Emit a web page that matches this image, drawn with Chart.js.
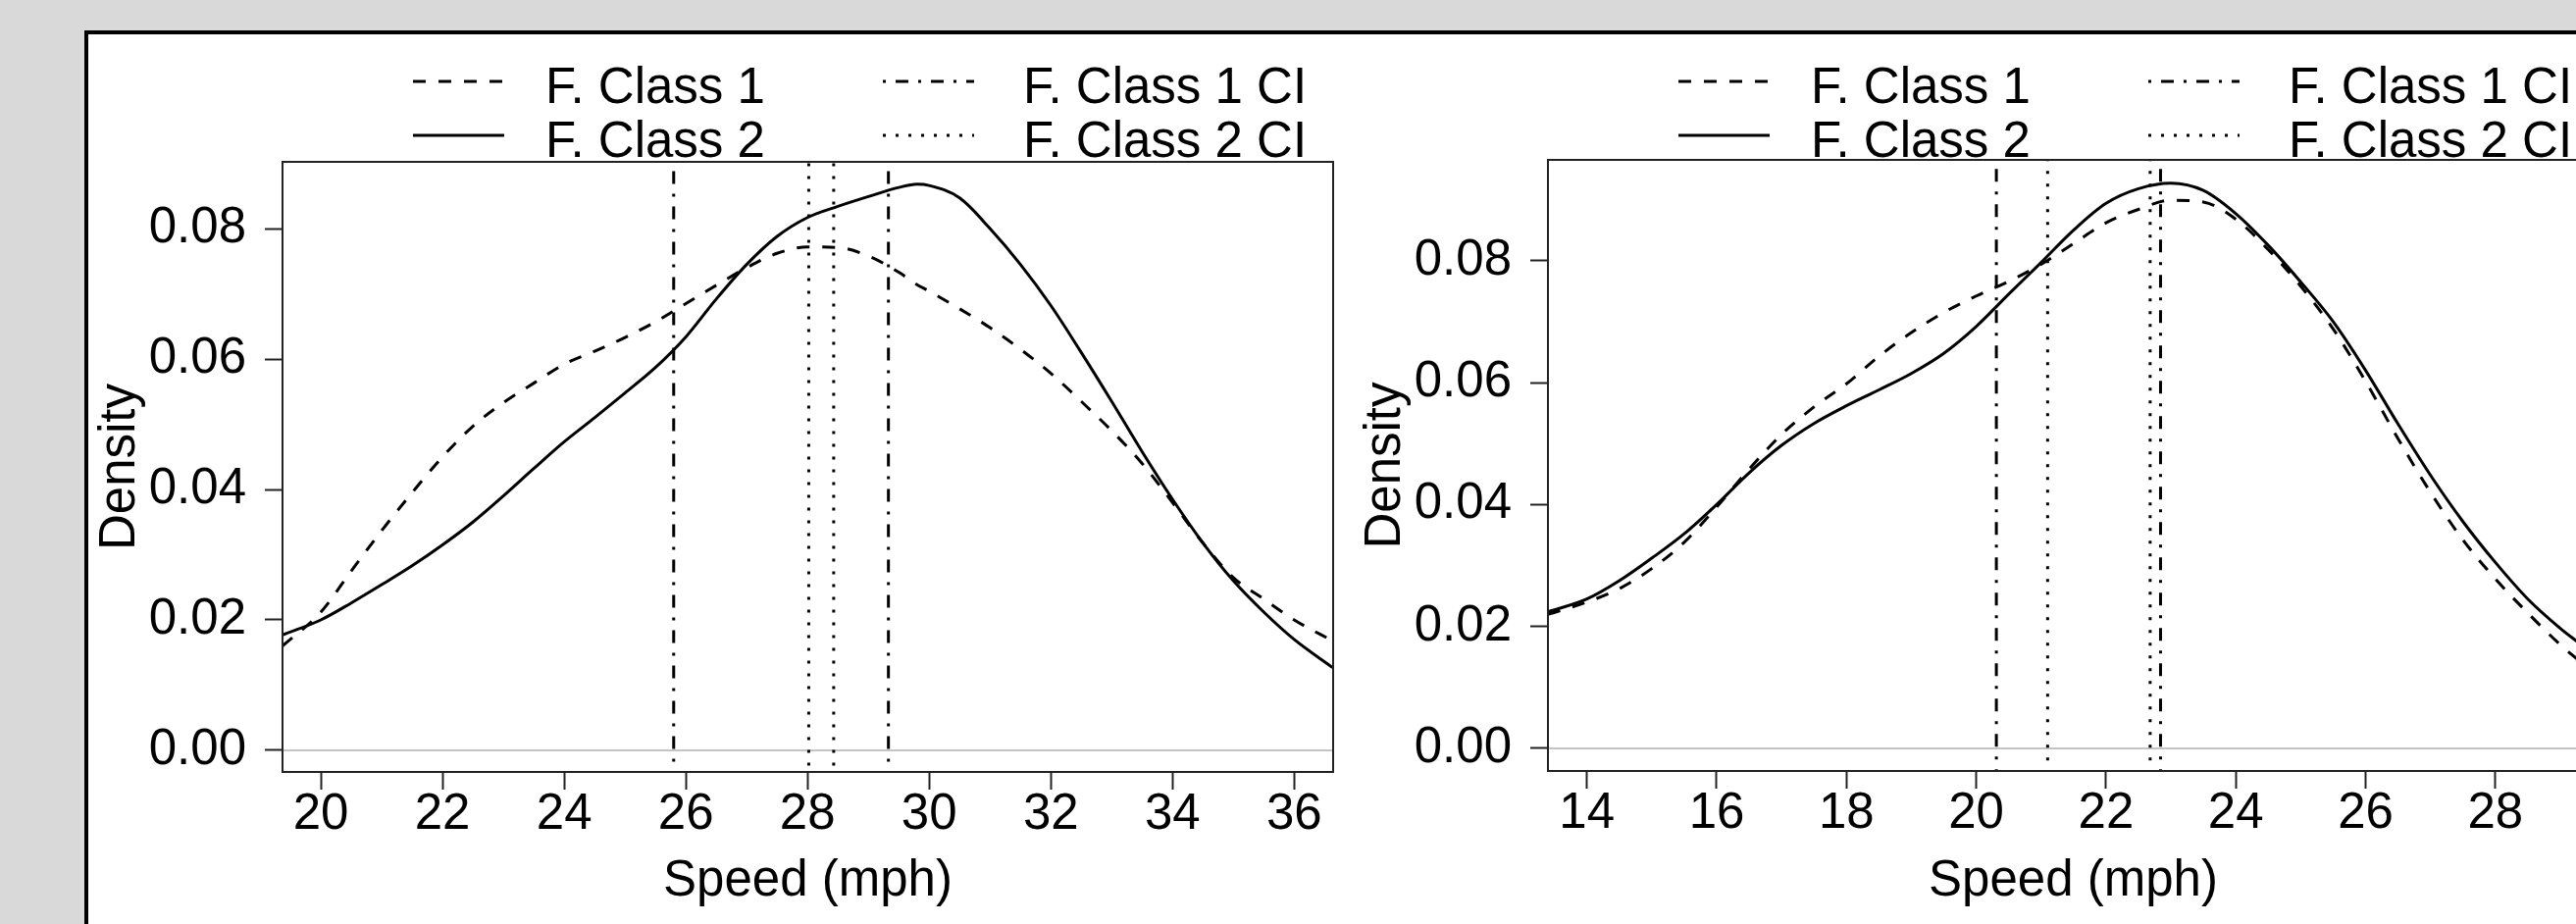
<!DOCTYPE html>
<html><head><meta charset="utf-8">
<script src="https://cdn.jsdelivr.net/npm/chart.js@4.4.1/dist/chart.umd.min.js"></script>
<style>
html,body{margin:0;padding:0;width:2626px;height:942px;overflow:hidden;background:#d9d9d9;}
#frame{position:absolute;left:86px;top:31px;width:3000px;height:2000px;border:4px solid #000;background:#fff;}
canvas{position:absolute;top:35px;}
#c1{left:90px;}
#c2{left:1380px;}
</style></head><body>
<div id="frame"></div>
<canvas id="c1" width="1290" height="907"></canvas>
<canvas id="c2" width="1290" height="907"></canvas>
<script>
// ---------- shared labels ----------
const seriesLabels = ['F. Class 1', 'F. Class 2', 'F. Class 1 CI', 'F. Class 2 CI'];
const xTitle = 'Speed (mph)';
const yTitle = 'Density';
const yTickValues = [0, 0.02, 0.04, 0.06, 0.08];
const yTickLabels = ['0.00', '0.02', '0.04', '0.06', '0.08'];

// ---------- left panel ----------
const leftSpeed = [19.37, 20, 20.5, 21, 21.5, 22, 22.5, 23, 23.5, 24, 24.5, 25, 25.5, 26, 26.5, 27, 27.5, 28, 28.5, 29, 29.5, 29.8, 30, 30.5, 31, 31.5, 32, 32.5, 33, 33.5, 34, 34.5, 35, 35.5, 36, 36.63];
const leftClass1 = [0.0160, 0.0212, 0.0275, 0.0337, 0.0395, 0.0450, 0.0497, 0.0533, 0.0563, 0.0592, 0.0612, 0.0633, 0.0657, 0.0685, 0.0713, 0.0740, 0.0762, 0.0772, 0.0771, 0.0758, 0.0733, 0.0714, 0.0704, 0.0677, 0.0648, 0.0615, 0.0578, 0.0535, 0.0490, 0.0440, 0.0380, 0.0318, 0.0265, 0.0232, 0.0200, 0.0168];
const leftClass2 = [0.0177, 0.0200, 0.0226, 0.0254, 0.0283, 0.0315, 0.0350, 0.0390, 0.0432, 0.0473, 0.0510, 0.0548, 0.0587, 0.0634, 0.0692, 0.0745, 0.0788, 0.0817, 0.0834, 0.0849, 0.0863, 0.0868, 0.0866, 0.0847, 0.0800, 0.0745, 0.0682, 0.0610, 0.0535, 0.0458, 0.0385, 0.0318, 0.0260, 0.0212, 0.0170, 0.0127];
const leftClass1CI = [25.80, 29.33];
const leftClass2CI = [28.02, 28.43];
const leftXTicks = [20, 22, 24, 26, 28, 30, 32, 34, 36];
const leftXRange = [19.37, 36.64];
const leftYRange = [-0.00331, 0.09023];

// ---------- right panel ----------
const rightSpeed = [13.40, 14, 14.5, 15, 15.5, 16, 16.5, 17, 17.5, 18, 18.5, 19, 19.5, 20, 20.5, 21, 21.5, 22, 22.5, 23, 23.5, 24, 24.5, 25, 25.5, 26, 26.5, 27, 27.5, 28, 28.5, 29, 29.3];
const rightClass1 = [0.0220, 0.0240, 0.0262, 0.0295, 0.0338, 0.0396, 0.0458, 0.0515, 0.0560, 0.0598, 0.0643, 0.0682, 0.0715, 0.0742, 0.0766, 0.0794, 0.0828, 0.0862, 0.0884, 0.0899, 0.0896, 0.0868, 0.0818, 0.0758, 0.0688, 0.0602, 0.0508, 0.0420, 0.0342, 0.0278, 0.0222, 0.0170, 0.0143];
const rightClass2 = [0.0224, 0.0245, 0.0275, 0.0312, 0.0352, 0.0400, 0.0452, 0.0497, 0.0533, 0.0562, 0.0588, 0.0615, 0.0648, 0.0692, 0.0745, 0.0797, 0.0850, 0.0894, 0.0918, 0.0927, 0.0915, 0.0877, 0.0825, 0.0765, 0.0700, 0.0620, 0.0532, 0.0448, 0.0372, 0.0305, 0.0245, 0.0197, 0.0172];
const rightClass1CI = [20.31, 22.84];
const rightClass2CI = [21.10, 22.68];
const rightXTicks = [14, 16, 18, 20, 22, 24, 26, 28];
const rightXRange = [13.40, 29.59];
const rightYRange = [-0.0037, 0.09652];

// ---------- styling ----------
Chart.defaults.font.family = "'Liberation Sans', Arial, sans-serif";
Chart.defaults.color = '#000';
const FONT = 51;
const styles = [
  { dash: [13, 13], width: 3 },          // F. Class 1
  { dash: [], width: 3 },                // F. Class 2
  { dash: [3, 10, 13, 10], width: 3 },   // F. Class 1 CI
  { dash: [3, 10], width: 3 }            // F. Class 2 CI
];
const legendLayout = { cols: [{ lineX: 331, textX: 466 }, { lineX: 810, textX: 953 }], lineLen: 93, baselines: [70, 125], lineRise: 22 };

const boxLegendPlugin = {
  id: 'boxLegend',
  afterDatasetsDraw(chart) {
    const { ctx, chartArea: a } = chart;
    ctx.save();
    ctx.setLineDash([]);
    ctx.strokeStyle = '#222';
    ctx.lineWidth = 2;
    ctx.strokeRect(a.left, a.top, a.right - a.left, a.bottom - a.top);
    ctx.restore();
  },
  afterDraw(chart) {
    const ctx = chart.ctx;
    ctx.save();
    ctx.font = FONT + "px 'Liberation Sans', Arial, sans-serif";
    ctx.fillStyle = '#000';
    ctx.textBaseline = 'alphabetic';
    ctx.textAlign = 'left';
    chart.data.datasets.forEach(d => {
      if (d.legendSlot == null) return;
      const col = legendLayout.cols[Math.floor(d.legendSlot / 2)];
      const base = legendLayout.baselines[d.legendSlot % 2];
      const ly = base - legendLayout.lineRise;
      ctx.beginPath();
      ctx.setLineDash(d.borderDash || []);
      ctx.lineWidth = d.borderWidth;
      ctx.strokeStyle = d.borderColor;
      ctx.moveTo(col.lineX, ly);
      ctx.lineTo(col.lineX + legendLayout.lineLen, ly);
      ctx.stroke();
      ctx.setLineDash([]);
      ctx.fillText(d.label, col.textX, base);
    });
    ctx.restore();
  }
};

function makeChart(id, p) {
  const pts = (xs, ys) => xs.map((x, i) => ({ x: x, y: ys[i] }));
  const ciPts = vals => vals.flatMap(v => [{ x: v, y: p.yRange[0] - 1 }, { x: v, y: p.yRange[1] + 1 }, { x: v, y: null }]);
  const curves = [pts(p.speed, p.class1), pts(p.speed, p.class2), ciPts(p.class1CI), ciPts(p.class2CI)];
  const datasets = curves.map((data, i) => ({
    label: seriesLabels[i],
    data: data,
    borderColor: '#000',
    borderWidth: styles[i].width,
    borderDash: styles[i].dash,
    cubicInterpolationMode: i < 2 ? 'monotone' : 'default',
    tension: 0,
    spanGaps: false,
    clip: 0,
    legendSlot: i
  }));
  datasets.push({
    label: 'zero',
    data: [{ x: p.xRange[0], y: 0 }, { x: p.xRange[1], y: 0 }],
    borderColor: '#c4c4c4',
    borderWidth: 2,
    clip: 0
  });
  return new Chart(document.getElementById(id), {
    type: 'line',
    data: { datasets: datasets },
    plugins: [boxLegendPlugin],
    options: {
      responsive: false,
      animation: false,
      devicePixelRatio: 1,
      parsing: true,
      elements: { point: { radius: 0 }, line: { borderCapStyle: 'butt' } },
      layout: { padding: { top: p.top, left: 0, right: 21, bottom: 0 } },
      plugins: { legend: { display: false }, tooltip: { enabled: false } },
      scales: {
        x: {
          type: 'linear', position: 'bottom',
          min: p.xRange[0], max: p.xRange[1],
          afterBuildTicks: s => { s.ticks = p.xTicks.map(v => ({ value: v })); },
          ticks: { font: { size: FONT, lineHeight: 1 }, color: '#000', padding: 0, maxRotation: 0, autoSkip: false, callback: v => String(v) },
          grid: { display: true, drawOnChartArea: false, drawTicks: true, tickLength: 18, tickWidth: 2, tickColor: '#222' },
          border: { display: false },
          title: { display: true, text: xTitle, font: { size: FONT, lineHeight: 1 }, color: '#000', padding: { top: 0, bottom: 17.5 } },
          afterFit: s => { s.height = p.xAxisHeight; }
        },
        y: {
          type: 'linear', position: 'left',
          min: p.yRange[0], max: p.yRange[1],
          afterBuildTicks: s => { s.ticks = yTickValues.map(v => ({ value: v })); },
          ticks: { font: { size: FONT, lineHeight: 1 }, color: '#000', padding: 19, autoSkip: false, callback: v => yTickLabels[yTickValues.indexOf(v)] },
          grid: { display: true, drawOnChartArea: false, drawTicks: true, tickLength: 18, tickWidth: 2, tickColor: '#222' },
          border: { display: false },
          title: { display: true, text: yTitle, font: { size: FONT, lineHeight: 1 }, color: '#000', padding: { top: 7, bottom: 0 } },
          afterFit: s => { s.width = 198; }
        }
      }
    }
  });
}

makeChart('c1', {
  speed: leftSpeed, class1: leftClass1, class2: leftClass2,
  class1CI: leftClass1CI, class2CI: leftClass2CI,
  xTicks: leftXTicks, xRange: leftXRange, yRange: leftYRange,
  top: 130, xAxisHeight: 155
});
makeChart('c2', {
  speed: rightSpeed, class1: rightClass1, class2: rightClass2,
  class1CI: rightClass1CI, class2CI: rightClass2CI,
  xTicks: rightXTicks, xRange: rightXRange, yRange: rightYRange,
  top: 128, xAxisHeight: 156
});
</script>
</body></html>
